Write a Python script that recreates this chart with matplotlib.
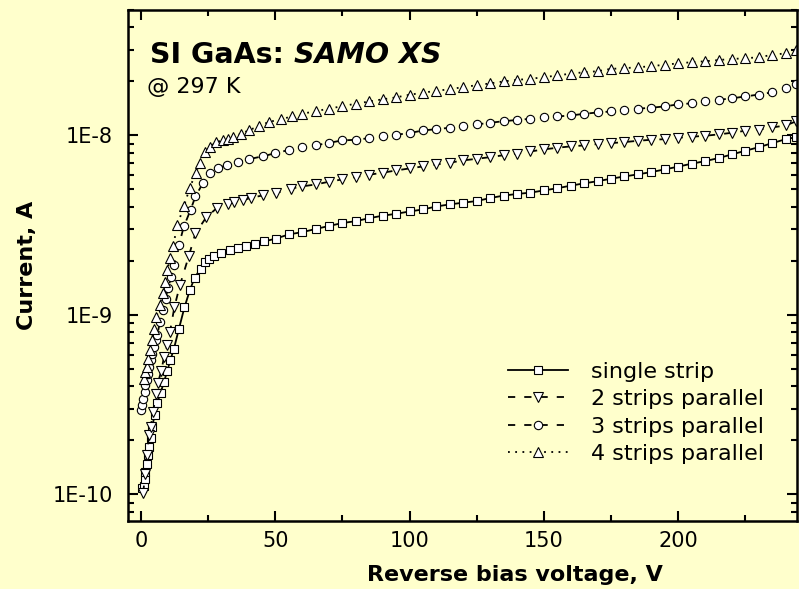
#!/usr/bin/env python
# -*- coding: utf-8 -*-

"""
I-V curves of SI GaAs strip detector (SAMO XS), reverse bias, 297 K.
"""

import matplotlib
matplotlib.use('Agg')
import matplotlib.pyplot as plt
import matplotlib.ticker as mticker
import numpy as np

# common voltage steps above 60 V
V_HIGH = [60, 65, 70, 75, 80, 85, 90, 95, 100, 105, 110, 115, 120, 125, 130,
          135, 140, 145, 150, 155, 160, 165, 170, 175, 180, 185, 190, 195,
          200, 205, 210, 215, 220, 225, 230, 235, 240, 244]

# single strip (current in nA)
V_1_LOW = [0.5, 1.1, 1.4, 1.7, 2.1, 2.6, 3.0, 3.6, 4.2, 5.1, 6.1, 7.3, 8.6,
           9.8, 11.0, 12.3, 14.1, 16.2, 18.2, 20.0, 22.2, 23.7, 25.3, 27.1,
           29.9, 33.1, 36.1, 39.1, 42.3, 46.0, 50.2, 55.1]
I_1_LOW = [0.108, 0.112, 0.122, 0.133, 0.148, 0.165, 0.183, 0.207, 0.237,
           0.276, 0.323, 0.367, 0.423, 0.487, 0.562, 0.648, 0.83, 1.10, 1.37,
           1.61, 1.81, 1.97, 2.06, 2.12, 2.21, 2.29, 2.37, 2.41, 2.47, 2.57,
           2.66, 2.81]
I_1_HIGH = [2.89, 3.01, 3.13, 3.25, 3.33, 3.46, 3.57, 3.66, 3.77, 3.87, 4.02,
            4.13, 4.22, 4.31, 4.48, 4.62, 4.72, 4.80, 4.94, 5.08, 5.25, 5.41,
            5.56, 5.74, 5.91, 6.07, 6.25, 6.47, 6.70, 6.96, 7.19, 7.48, 7.84,
            8.22, 8.60, 9.06, 9.53, 9.79]

# 2 strips parallel
V_2_LOW = [0.9, 1.5, 2.2, 3.0, 3.6, 4.6, 5.5, 6.3, 7.6, 8.6, 9.8, 10.8, 12.5,
           14.5, 17.8, 20.3, 24.4, 28.4, 32.3, 34.8, 37.9, 41.0, 45.4, 50.4,
           55.7]
I_2_LOW = [0.102, 0.13, 0.165, 0.213, 0.237, 0.288, 0.361, 0.417, 0.487,
           0.582, 0.676, 0.802, 1.11, 1.46, 2.12, 2.85, 3.51, 3.95, 4.13,
           4.25, 4.34, 4.50, 4.63, 4.78, 5.05]
I_2_HIGH = [5.20, 5.33, 5.52, 5.69, 5.87, 6.04, 6.20, 6.38, 6.55, 6.72, 6.89,
            7.05, 7.26, 7.41, 7.57, 7.76, 7.93, 8.14, 8.36, 8.54, 8.69, 8.80,
            8.95, 9.06, 9.18, 9.34, 9.46, 9.53, 9.71, 9.83, 9.96, 10.13,
            10.35, 10.62, 10.79, 11.08, 11.37, 12.0]

# 3 strips parallel
V_3_LOW = [0.2, 0.5, 0.9, 1.4, 1.7, 2.1, 2.6, 3.0, 3.6, 4.2, 4.8, 5.5, 6.1,
           7.1, 8.3, 9.2, 10.1, 11.3, 12.3, 14.1, 16.0, 18.5, 20.3, 23.2,
           25.8, 28.6, 32.1, 36.1, 40.3, 45.3, 50.0, 55.1]
I_3_LOW = [0.295, 0.313, 0.341, 0.372, 0.405, 0.432, 0.470, 0.512, 0.558,
           0.608, 0.662, 0.721, 0.775, 0.912, 1.06, 1.23, 1.42, 1.62, 1.89,
           2.44, 3.11, 3.85, 4.57, 5.46, 6.15, 6.55, 6.85, 7.10, 7.38, 7.65,
           7.96, 8.30]
I_3_HIGH = [8.60, 8.80, 9.10, 9.38, 9.46, 9.66, 9.87, 10.09, 10.31, 10.66,
            10.84, 11.04, 11.22, 11.52, 11.77, 12.00, 12.2, 12.38, 12.64,
            12.76, 12.92, 13.2, 13.43, 13.6, 13.9, 14.1, 14.27, 14.52, 14.9,
            15.1, 15.5, 15.8, 16.1, 16.5, 16.9, 17.4, 18.3, 19.4]

# 4 strips parallel
V_4_LOW = [1.0, 1.6, 2.1, 2.7, 3.3, 4.0, 4.9, 5.8, 7.1, 8.1, 8.9, 9.9, 10.8,
           12.0, 13.5, 16.0, 18.2, 20.4, 21.9, 24.0, 25.7, 27.9, 30.4, 32.5,
           34.3, 37.1, 40.3, 44.0, 47.7, 52.2, 56.4]
I_4_LOW = [0.44, 0.48, 0.512, 0.57, 0.634, 0.721, 0.838, 0.972, 1.14, 1.32,
           1.53, 1.77, 2.08, 2.41, 3.15, 4.02, 5.11, 6.17, 7.01, 8.07, 8.61,
           9.18, 9.38, 9.50, 9.79, 10.2, 10.7, 11.3, 11.9, 12.3, 12.8]
I_4_HIGH = [13.2, 13.65, 14.1, 14.56, 15.03, 15.46, 15.9, 16.3, 16.86, 17.3,
            17.74, 18.1, 18.6, 19.05, 19.5, 20.0, 20.4, 20.7, 21.1, 21.6,
            22.1, 22.5, 22.8, 23.5, 23.7, 24.0, 24.3, 24.8, 25.2, 25.6, 25.9,
            26.3, 26.7, 26.9, 27.3, 28.1, 28.7, 29.8]

LABELS = ['single strip', '2 strips parallel', '3 strips parallel',
          '4 strips parallel']
Y_TICKS = [1e-10, 1e-9, 1e-8]
Y_TICK_LABELS = ['1E-10', '1E-9', '1E-8']

BG = '#ffffcc'


def main():
    fig = plt.figure(figsize=(7.99, 5.89), dpi=100, facecolor=BG)
    ax = fig.add_axes([0.1602, 0.1154, 0.8376, 0.8676], facecolor=BG)

    series = [
        (V_1_LOW + V_HIGH, I_1_LOW + I_1_HIGH, 's', '-', 5.4),
        (V_2_LOW + V_HIGH, I_2_LOW + I_2_HIGH, 'v', (0, (4, 5)), 6.8),
        (V_3_LOW + V_HIGH, I_3_LOW + I_3_HIGH, 'o', (0, (4, 5)), 6.0),
        (V_4_LOW + V_HIGH, I_4_LOW + I_4_HIGH, '^', (0, (1, 3)), 6.8),
    ]

    for (v, i_na, mk, ls, ms), lab in zip(series, LABELS):
        ax.plot(v, np.array(i_na) * 1e-9, marker=mk, linestyle=ls,
                color='black', linewidth=1.3, markersize=ms,
                markerfacecolor='white', markeredgecolor='black',
                markeredgewidth=0.8, label=lab)

    ax.set_yscale('log')
    ax.set_xlim(-4.8, 244.3)
    ax.set_ylim(7.1e-11, 5.0e-8)

    # 軸目盛り
    ax.xaxis.set_major_locator(mticker.MultipleLocator(50))
    ax.xaxis.set_minor_locator(mticker.MultipleLocator(25))
    ax.yaxis.set_major_locator(mticker.FixedLocator(Y_TICKS))
    ax.yaxis.set_major_formatter(mticker.FixedFormatter(Y_TICK_LABELS))
    ax.yaxis.set_minor_locator(mticker.LogLocator(base=10, subs=np.arange(2, 10)))
    ax.yaxis.set_minor_formatter(mticker.NullFormatter())

    ax.tick_params(which='both', direction='in', top=True, right=True,
                   width=1.5, labelsize=15)
    ax.tick_params(which='major', length=7)
    ax.tick_params(which='minor', length=4)
    ax.tick_params(axis='y', which='major', pad=11)
    ax.tick_params(axis='x', which='major', pad=7)
    for sp in ax.spines.values():
        sp.set_linewidth(1.8)

    ax.set_xlabel('Reverse bias voltage, V', fontsize=16, fontweight='bold')
    ax.set_ylabel('Current, A', fontsize=16, fontweight='bold')
    ax.xaxis.set_label_coords(0.578, -0.086)
    ax.yaxis.set_label_coords(-0.136, 0.5)

    # タイトル（太字＋太字斜体）
    t1 = ax.text(0.033, 0.885, 'SI GaAs: ', transform=ax.transAxes,
                 fontsize=20.5, fontweight='bold', va='bottom')
    ax.annotate('SAMO XS', xy=(1, 0), xycoords=t1, fontsize=20.5,
                fontweight='bold', fontstyle='italic', va='bottom')
    ax.text(0.029, 0.83, '@ 297 K', transform=ax.transAxes, fontsize=16,
            va='bottom')

    ax.legend(loc='upper left', bbox_to_anchor=(0.568, 0.312),
              frameon=False, fontsize=16, handlelength=2.7,
              handletextpad=1.05, labelspacing=0.34, borderpad=0,
              borderaxespad=0, numpoints=1)

    fig.savefig('out.png', dpi=100, facecolor=BG)
    plt.close(fig)


if __name__ == '__main__':
    main()
